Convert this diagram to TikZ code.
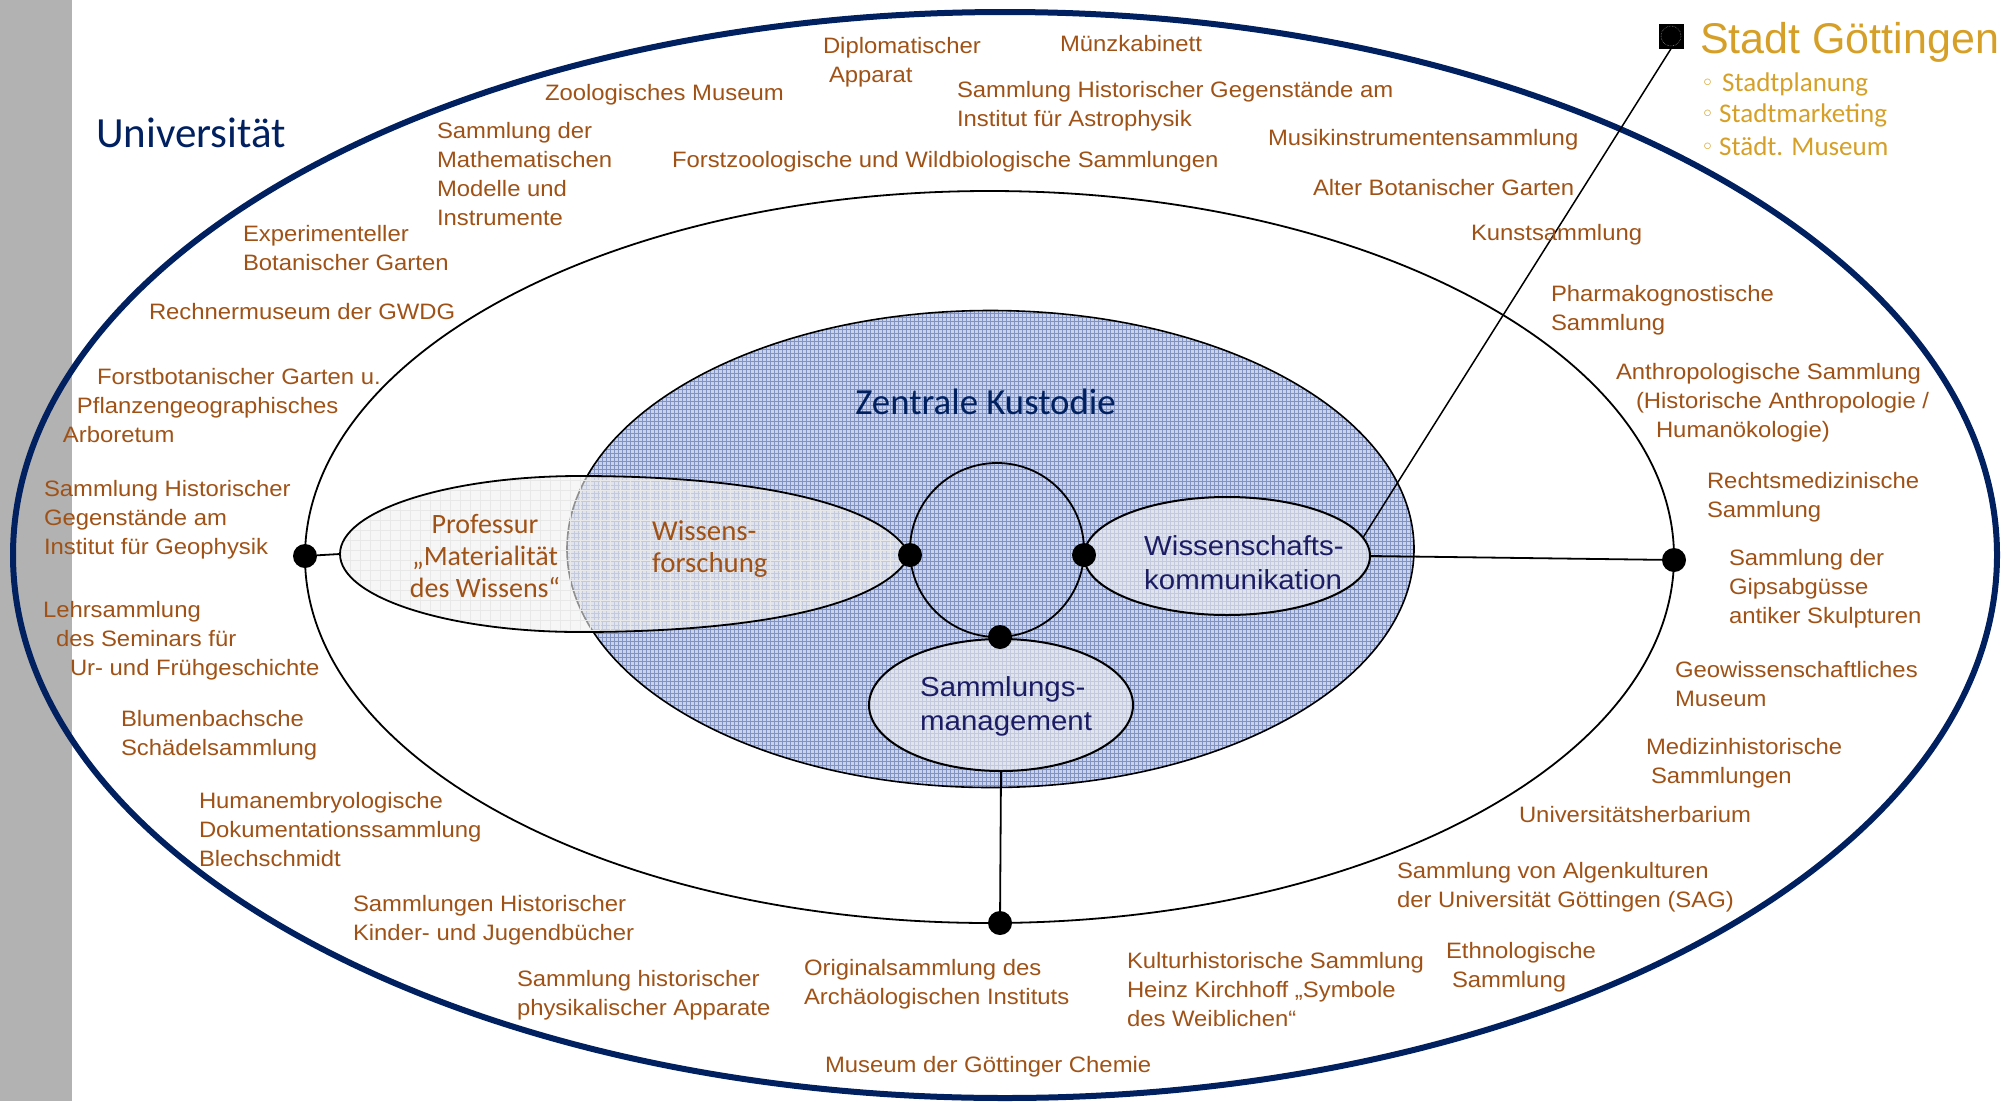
\documentclass[tikz,border=0pt]{standalone}
\usepackage{fontspec}
\setmainfont{Liberation Sans}
\newfontfamily\labfont[FakeStretch=1.07]{Liberation Sans}
\newfontfamily\carl{Carlito}
\newfontfamily\dvs{DejaVu Sans}
\usetikzlibrary{shapes.geometric}
\definecolor{navyU}{RGB}{0,32,96}
\definecolor{labbrown}{RGB}{160,82,22}
\definecolor{kustblue}{RGB}{200,210,236}
\definecolor{kustgrid}{RGB}{70,95,160}
\definecolor{goldS}{RGB}{214,160,40}
\definecolor{barg}{RGB}{178,178,178}
\definecolor{innernavy}{RGB}{28,28,100}
\tikzset{
  ell/.style={ellipse, inner sep=0pt},
  lab/.style={anchor=north west, inner sep=0pt, outer sep=0pt, align=left, text=labbrown,
    font=\labfont\fontsize{22.3}{29}\selectfont},
  dotn/.style={circle, fill=black, inner sep=0pt, minimum size=24pt},
  conn/.style={draw=black, line width=1.8pt},
  lens/.style={draw=black, line width=1.8pt, fill=gray!12, fill opacity=0.6},
  stl/.style={anchor=base west, inner sep=0pt, text=goldS, font=\carl\fontsize{27}{32}\selectfont},
  bluegrid/.style={path picture={\draw[kustgrid, draw opacity=0.55, line width=0.8pt]
      (path picture bounding box.south west) grid[step=4pt] (path picture bounding box.north east);}},
  graygrid/.style={path picture={\draw[gray!18, line width=0.5pt]
      (path picture bounding box.south west) grid[step=10pt] (path picture bounding box.north east);}},
}
\newcommand\lab[4]{\node[lab] (#1) at (#2,#3-21) {\rule{0pt}{21pt}#4};}
\newcommand\sgbul{\makebox[13pt]{\raisebox{1pt}{\dvs\fontsize{22}{22}\selectfont ◦}}}
\begin{document}
\begin{tikzpicture}[x=1pt,y=-1pt]
\useasboundingbox (0,0) rectangle (2011,1101);
\fill[barg] (0,0) rectangle (72,1101);
% rings
\node[ell, draw=navyU, line width=6pt, minimum width=1984pt, minimum height=1086pt] (uni) at (1005,555) {};
\node[ell, draw=black, line width=1.8pt, minimum width=1369pt, minimum height=732pt] (mid) at (989.5,557) {};
\node[ell, draw=black, line width=1.6pt, fill=kustblue, bluegrid, minimum width=847pt, minimum height=477pt] (kust) at (990.5,549) {};
% Professur lens
\draw[lens, graygrid] (910,555) .. controls (885,505) and (760,476) .. (580,476)
  arc[start angle=270, end angle=90, x radius=240, y radius=78]
  .. controls (760,632) and (885,605) .. (910,555) -- cycle;
\coordinate (profL) at (340,554);
% core circle and units
\node[circle, draw=black, line width=1.8pt, minimum size=174pt, inner sep=0pt] (core) at (997,550) {};
\node[ell, lens, line width=2pt, minimum width=286pt, minimum height=118pt] (wk) at (1227,556) {};
\node[ell, lens, line width=2pt, minimum width=264pt, minimum height=132pt] (sm) at (1001,705) {};
% Stadt
\node[fill=black, minimum size=25pt, inner sep=0pt] (sq) at (1671,36) {};
\draw[gray, densely dotted, line width=0.6pt] (sq.center) circle[radius=10];
% connectors
\node[dotn] (dl) at (305,556) {};
\node[dotn] (dr) at (1674,560) {};
\node[dotn] (db) at (1000,923) {};
\node[dotn] (dpl) at (910,555) {};
\node[dotn] (dpr) at (1084,555) {};
\node[dotn] (dps) at (1000,637) {};
\draw[conn] (dl) -- (profL);
\draw[conn] (wk.east) -- (dr);
\draw[conn] (sm.south) -- (db);
\draw[conn, line width=1.5pt] (sq.south) -- (wk.8);
% titles
\node[anchor=base west, inner sep=0pt, text=navyU, font=\carl\fontsize{43}{47}\selectfont] (unitext) at (96,147) {Universität};
\node[anchor=base, inner sep=0pt, text=navyU, font=\carl\fontsize{36.8}{40}\selectfont] (zk) at (985.5,414) {Zentrale Kustodie};
\node[anchor=base west, inner sep=0pt, text=goldS, font=\fontsize{43}{50}\selectfont] (stadt) at (1700,53) {Stadt Göttingen};
\node[stl] (s1) at (1701,91) {\sgbul\hspace{8pt}Stadtplanung};
\node[stl] (s2) at (1701,122.5) {\sgbul\hspace{5pt}Stadtmarketing};
\node[stl] (s3) at (1701,155) {\sgbul\hspace{5pt}Städt. Museum};
% inner texts
\node[anchor=north, inner sep=0pt, align=center, text=labbrown, font=\carl\fontsize{28}{32}\selectfont] (proftext) at (485,511) {\rule{0pt}{22pt}Professur\\„Materialität\\des Wissens“};
\node[anchor=north west, inner sep=0pt, align=left, text=labbrown, font=\carl\fontsize{28.8}{32}\selectfont] (wftext) at (652,518) {\rule{0pt}{22pt}Wissens-\\forschung};
\node[anchor=north west, inner sep=0pt, align=left, text=innernavy, font=\labfont\fontsize{27.5}{34}\selectfont] (wktext) at (1144,531) {\rule{0pt}{24pt}Wissenschafts-\\kommunikation};
\node[anchor=north west, inner sep=0pt, align=left, text=innernavy, font=\labfont\fontsize{27.5}{34}\selectfont] (smtext) at (920,672) {\rule{0pt}{24pt}Sammlungs-\\management};
% collections
\lab{zoo}{545}{100}{Zoologisches Museum}
\lab{dipl}{823}{53}{Diplomatischer\\\hspace*{6pt}Apparat}
\lab{muenz}{1060}{51}{Münzkabinett}
\lab{astro}{957}{97}{Sammlung Historischer Gegenstände am\\Institut für Astrophysik}
\lab{math}{437}{138}{Sammlung der\\Mathematischen\\Modelle und\\Instrumente}
\lab{forstzoo}{672}{167}{Forstzoologische und Wildbiologische Sammlungen}
\lab{musik}{1268}{145}{Musikinstrumentensammlung}
\lab{alter}{1313}{195}{Alter Botanischer Garten}
\lab{kunst}{1471}{240}{Kunstsammlung}
\lab{pharma}{1551}{301}{Pharmakognostische\\Sammlung}
\lab{anthro}{1616}{379}{Anthropologische Sammlung\\\hspace*{20pt}(Historische Anthropologie /\\\hspace*{40pt}Humanökologie)}
\lab{rechts}{1707}{488}{Rechtsmedizinische\\Sammlung}
\lab{gips}{1729}{565}{Sammlung der\\Gipsabgüsse\\antiker Skulpturen}
\lab{geo}{1675}{677}{Geowissenschaftliches\\Museum}
\lab{medi}{1646}{754}{Medizinhistorische\\\hspace*{5pt}Sammlungen}
\lab{herb}{1519}{822}{Universitätsherbarium}
\lab{algen}{1397}{878}{Sammlung von Algenkulturen\\der Universität Göttingen (SAG)}
\lab{ethno}{1446}{958}{Ethnologische\\\hspace*{6pt}Sammlung}
\lab{kultur}{1127}{968}{Kulturhistorische Sammlung\\Heinz Kirchhoff „Symbole\\des Weiblichen“}
\lab{chemie}{825}{1072}{Museum der Göttinger Chemie}
\lab{archaeo}{804}{975}{Originalsammlung des\\Archäologischen Instituts}
\lab{physik}{517}{986}{Sammlung historischer\\physikalischer Apparate}
\lab{kinder}{353}{911}{Sammlungen Historischer\\Kinder- und Jugendbücher}
\lab{embryo}{199}{808}{Humanembryologische\\Dokumentationssammlung\\Blechschmidt}
\lab{blumen}{121}{726}{Blumenbachsche\\Schädelsammlung}
\lab{lehr}{43}{617}{Lehrsammlung\\\hspace*{13pt}des Seminars für\\\hspace*{27pt}Ur- und Frühgeschichte}
\lab{geophys}{44}{496}{Sammlung Historischer\\Gegenstände am\\Institut für Geophysik}
\lab{forstbot}{63}{384}{\hspace*{34pt}Forstbotanischer Garten u.\\\hspace*{14pt}Pflanzengeographisches\\Arboretum}
\lab{rechner}{149}{319}{Rechnermuseum der GWDG}
\lab{exper}{243}{241}{Experimenteller\\Botanischer Garten}
\end{tikzpicture}
\end{document}
